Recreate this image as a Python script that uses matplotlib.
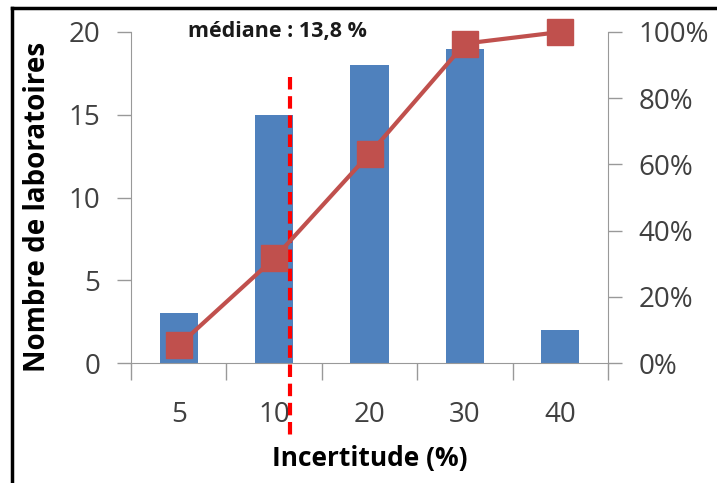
import matplotlib
matplotlib.use("Agg")
import matplotlib.pyplot as plt
from matplotlib.lines import Line2D
import numpy as np

categories = ["5", "10", "20", "30", "40"]
counts = [3, 15, 18, 19, 2]
cumulative = [0.053, 0.316, 0.632, 0.965, 1.0]
median_pos = 1.17
median_label = "médiane : 13,8 %"
left_ticks = [0, 5, 10, 15, 20]
right_ticks = [0, 0.2, 0.4, 0.6, 0.8, 1.0]
right_labels = ["0%", "20%", "40%", "60%", "80%", "100%"]

plt.rcParams['font.family'] = ['Open Sans', 'DejaVu Sans']
W, H = 717, 483
fig = plt.figure(figsize=(W/100, H/100), dpi=100)
ax = fig.add_axes([131/W, (H-363)/H, (608-131)/W, (363-32)/H])
x = np.arange(len(categories))
ax.bar(x, counts, width=0.4, color="#4f81bd", zorder=2)
ax.set_xlim(-0.5, 4.5)
ax.set_ylim(0, 20)
ax.set_yticks(left_ticks)
ax.set_yticklabels([str(t) for t in left_ticks])
ax.set_xticks(x)
ax.set_xticklabels(categories)
ax.set_xticks(np.arange(-0.5, 5, 1), minor=True)
ax.tick_params(axis='x', which='major', length=0, pad=27, labelsize=20, colors="#404040")
ax.tick_params(axis='x', which='minor', length=12, width=1, color="#999999", direction='out')
ax.tick_params(axis='y', length=10, width=1, color="#999999", labelsize=20, labelcolor="#404040", pad=12)
for s in ["top", "right"]:
    ax.spines[s].set_visible(False)
for s in ["left", "bottom"]:
    ax.spines[s].set_color("#999999")
ax.set_ylabel("Nombre de laboratoires", fontsize=20, fontweight='bold')
ax.yaxis.set_label_coords(-(131-52)/(608-131), 0.47)
ax.set_xlabel("Incertitude (%)", fontsize=19, fontweight='bold', labelpad=12)

ax2 = ax.twinx()
ax2.set_ylim(0, 1)
ax2.set_yticks(right_ticks)
ax2.set_yticklabels(right_labels)
ax2.tick_params(axis='y', length=10, width=1, color="#999999", labelsize=20, labelcolor="#404040", pad=12)
for s in ["top", "left", "bottom"]:
    ax2.spines[s].set_visible(False)
ax2.spines["right"].set_color("#999999")
ax2.plot(x, cumulative, color="#c0504d", lw=3, marker='s', markersize=19,
         markerfacecolor="#c0504d", markeredgecolor="#c0504d", zorder=5, clip_on=False)

# median dashed line
ax.plot([median_pos, median_pos], [17.3, -4.7], color="red", lw=3, ls=(0, (3, 1.6)),
        zorder=6, clip_on=False)
ax.text(1.03, 20.0, median_label, fontsize=15.5, fontweight='bold', ha='center', va='center',
        color="#1a1a1a")

# frame
fig.add_artist(Line2D([12/W, 1.0], [1-8/H, 1-8/H], color='black', lw=2.5, transform=fig.transFigure))
fig.add_artist(Line2D([12/W, 12/W], [0, 1-8/H], color='black', lw=2.5, transform=fig.transFigure))

fig.savefig("out.png", dpi=100)
